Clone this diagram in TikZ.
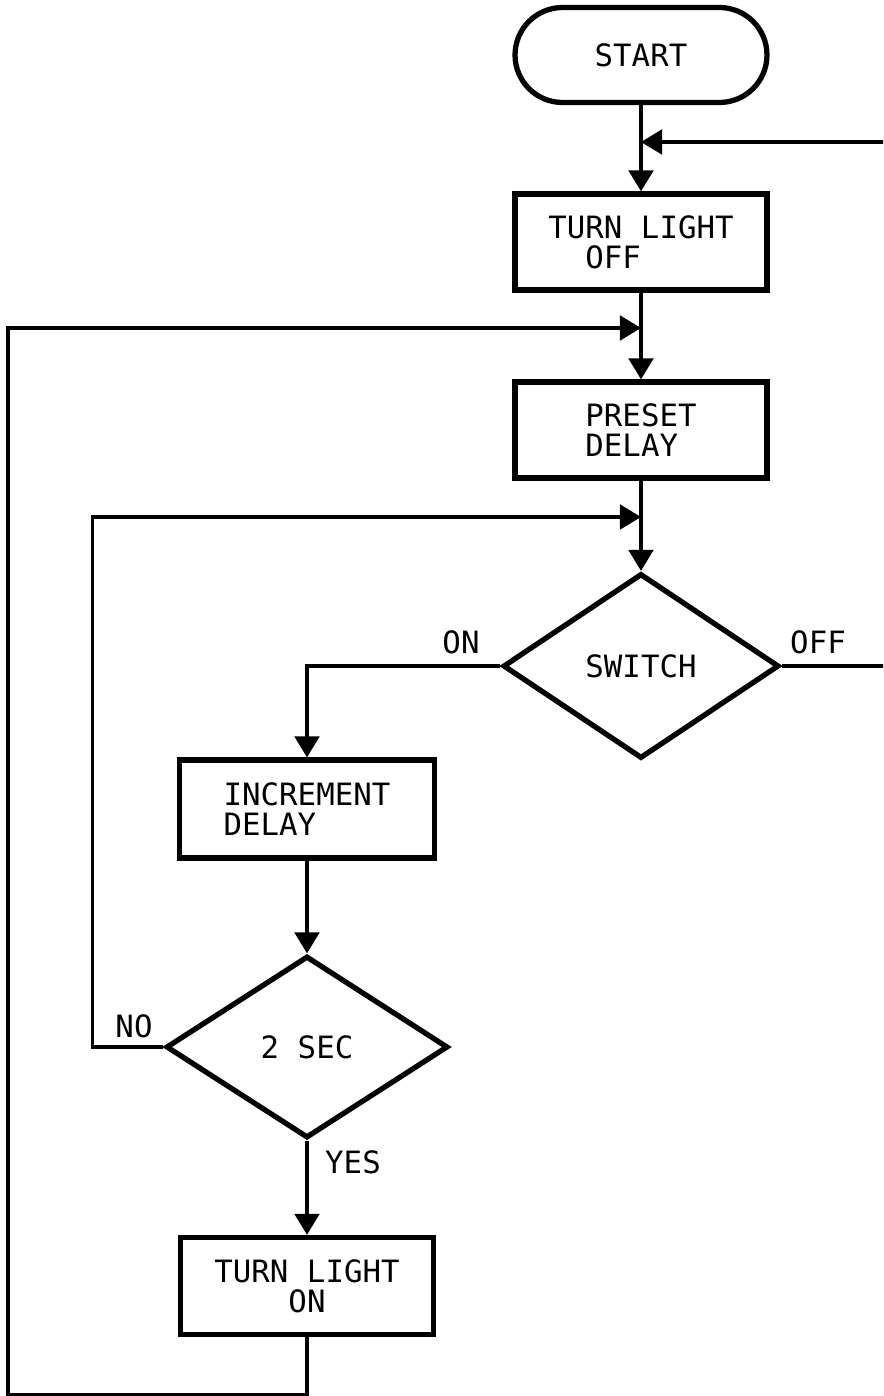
\documentclass[tikz,border=0pt]{standalone}
\usepackage{fontspec}
\setmonofont{DejaVu Sans Mono}
\usepackage{tikz}
\usetikzlibrary{shapes.geometric,arrows.meta}
\definecolor{FCInk}{HTML}{000000}
\definecolor{FCPaper}{HTML}{FFFFFF}

\tikzset{
  fcText/.style={font=\ttfamily\fontsize{17.5}{17}\selectfont,text=FCInk},
  fcBox/.style={fcText,draw=FCInk,line width=3pt,rectangle,inner sep=0pt,minimum width=5.04cm,minimum height=1.92cm},
  fcStart/.style={fcBox,rounded corners=0.95cm,minimum height=1.9cm},
  fcTest/.style={fcText,draw=FCInk,line width=3pt,diamond,inner sep=0pt},
  fcLine/.style={draw=FCInk,line width=2pt},
  fcFlow/.style={fcLine,-{Triangle[length=12pt,width=14pt]}}
}

\begin{document}
\begin{tikzpicture}[x=0.02cm,y=-0.02cm]
\path[use as bounding box,fill=FCPaper] (0,0) rectangle (883,1396);
% main column
\node[fcStart] (start) at (641,55) {START};
\node[fcBox,align=left] (lightOff) at (641,242) {TURN LIGHT\\\hspace*{1.2em}OFF};
\node[fcBox,align=left] (preset) at (641,430) {PRESET\\DELAY};
\node[fcTest,minimum width=5.52cm,minimum height=3.7cm] (switch) at (641,666) {SWITCH};
% left column
\node[fcBox,align=left,minimum width=5.1cm,minimum height=1.96cm] (incr) at (307,809) {INCREMENT\\DELAY};
\node[fcTest,minimum width=5.64cm,minimum height=3.64cm] (twoSec) at (307,1047) {2 SEC};
\node[fcBox,align=center,minimum width=5.06cm,minimum height=1.94cm] (lightOn) at (307,1286) {TURN LIGHT\\ON};
% merge points on the main line
\coordinate (mergeTop) at (641,142);
\coordinate (mergeMid) at (641,328);
\coordinate (mergeLow) at (641,517);
% branch labels
\node[fcText] (onLbl) at (461,642) {ON};
\node[fcText] (offLbl) at (818,642) {OFF};
\node[fcText] (noLbl) at (134,1026) {NO};
\node[fcText] (yesLbl) at (353,1162) {YES};
% flow
\draw[fcFlow] (start.south) -- (lightOff.north);
\draw[fcFlow] (lightOff.south) -- (preset.north);
\draw[fcFlow] (preset.south) -- (switch.north);
\draw[fcFlow] (switch.west) -| (incr.north);
\draw[fcFlow] (incr.south) -- (twoSec.north);
\draw[fcFlow] (twoSec.south) -- (lightOn.north);
% loops back
\draw[fcFlow] (twoSec.west) -- ++(-71,0) |- (mergeLow);
\draw[fcFlow] (lightOn.south) -- ++(0,58) -- ++(-299,0) |- (mergeMid);
\begin{scope}
\clip (0,0) rectangle (883,1396);
\draw[fcFlow] (switch.east) -- ++(130,0) |- (mergeTop);
\end{scope}
\end{tikzpicture}
\end{document}
